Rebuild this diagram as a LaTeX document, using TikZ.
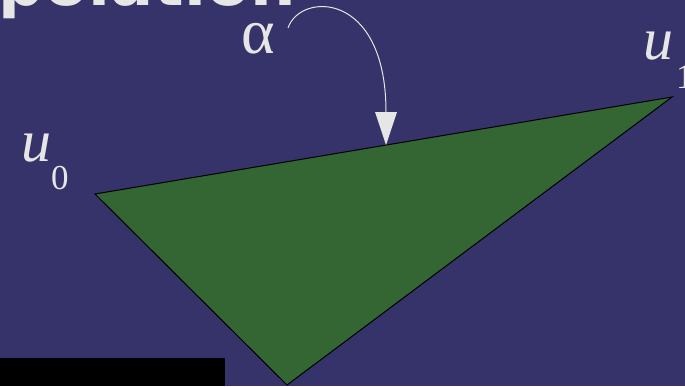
\documentclass[tikz,border=0pt]{standalone}
\usepackage{fontspec}
\setmainfont{Liberation Serif}
\newfontfamily\titlefont{DejaVu Sans}
\definecolor{bgblue}{HTML}{35336A}
\definecolor{trigreen}{HTML}{336633}
\definecolor{lighttext}{HTML}{E6E6E6}
\tikzset{
  lbl/.style={inner sep=0pt, text=lighttext, anchor=base west, font=\fontsize{60}{60}\selectfont},
  sublbl/.style={inner sep=0pt, text=lighttext, anchor=base west, font=\fontsize{35}{35}\selectfont},
  tri/.style={fill=trigreen, draw=black, line width=1pt, line join=miter},
  pointer/.style={draw=lighttext, line width=1pt},
  pointerhead/.style={fill=lighttext}
}
\begin{document}
\begin{tikzpicture}[x=1pt, y=-1pt]
\useasboundingbox (0,0) rectangle (685,386);
\clip (0,0) rectangle (685,386);
\fill[bgblue] (0,0) rectangle (685,386);
% title (only its bottom is visible)
\node[inner sep=0pt, anchor=base east, text=lighttext, font=\titlefont\bfseries\fontsize{64}{64}\selectfont] (title) at (296,5) {Interpolation};
% triangle
\coordinate (v0) at (95,194);
\coordinate (v1) at (672,97);
\coordinate (v2) at (287,385);
\draw[tri] (v0) -- (v1) -- (v2) -- cycle;
% labels
\node[lbl] (u0) at (21,161) {\textit{u}};
\node[sublbl] (s0) at (51,189) {0};
\node[lbl] (u1) at (643,59) {\textit{u}};
\node[sublbl] (s1) at (676,88) {1};
\node[lbl, font=\fontsize{64}{64}\selectfont] (alpha) at (241,53) {α};
% pointer
\coordinate (ps) at (288,28);
\coordinate (pe) at (386,112);
\coordinate (ptip) at (386,145);
\draw[pointer] (ps) .. controls (300,-8) and (386,-10) .. (pe);
\fill[pointerhead] (375,112) -- (397,112) -- (ptip) -- cycle;
% black bar
\fill[black] (0,358) rectangle (225,386);
\end{tikzpicture}
\end{document}
